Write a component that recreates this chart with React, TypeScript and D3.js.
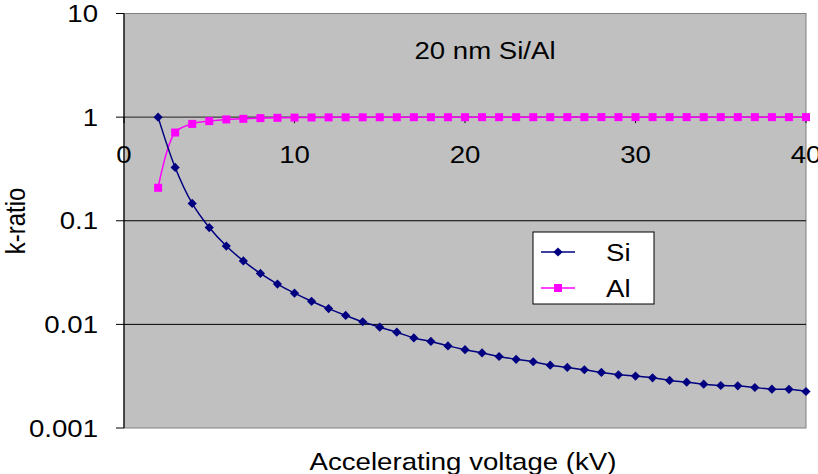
import React from "react";
import * as d3 from "d3";

const voltages = [2,3,4,5,6,7,8,9,10,11,12,13,14,15,16,17,18,19,20,21,22,23,24,25,26,27,28,29,30,31,32,33,34,35,36,37,38,39,40];
const siValues = [1.0,0.327,0.147,0.086,0.057,0.041,0.031,0.0245,0.020,0.0167,0.0142,0.0122,0.0106,0.0094,0.0084,0.0074,0.00685,0.0062,0.0057,0.0053,0.0049,0.0046,0.00436,0.00404,0.00384,0.00365,0.00344,0.00326,0.00317,0.00305,0.00288,0.00277,0.00265,0.00257,0.00255,0.00246,0.00237,0.00236,0.00225];
const alValues = [0.208,0.71,0.86,0.915,0.95,0.963,0.978,0.985,0.99,0.992,0.994,0.995,0.996,0.997,0.997,0.998,0.998,0.998,0.999,0.999,0.999,0.999,0.999,0.999,1,1,1,1,1,1,1,1,1,1,1,1,1,1,1];
const xTicks = [0,10,20,30,40];
const yTicks = [0.001,0.01,0.1,1,10];
const yTickLabels = ["0.001","0.01","0.1","1","10"];
const seriesNames = ["Si","Al"];
const titleText = "20 nm Si/Al";
const xTitle = "Accelerating voltage (kV)";
const yTitle = "k-ratio";

const W = 818, H = 474;
const L = 124, R = 806, T = 13.5, B = 428;
const FONT = "'Liberation Sans', Arial, sans-serif";
const SX = 1.15;

function STxt({x, y, anchor, size, children}: any) {
  return (
    <text transform={`translate(${x},${y}) scale(${SX},1)`} textAnchor={anchor} fontSize={size} fontFamily={FONT} fill="#000">
      {children}
    </text>
  );
}

export default function App() {
  const x = d3.scaleLinear().domain([0, 40]).range([L, R]);
  const y = d3.scaleLog().domain([0.001, 10]).range([B, T]);
  const line = d3.line<[number, number]>().x(d => x(d[0])).y(d => y(d[1])).curve(d3.curveCatmullRom.alpha(0.5));
  const si: [number, number][] = voltages.map((v, i) => [v, siValues[i]]);
  const al: [number, number][] = voltages.map((v, i) => [v, alValues[i]]);
  const diamond = (cx: number, cy: number, s = 4.6) => `M${cx},${cy - s}L${cx + s},${cy}L${cx},${cy + s}L${cx - s},${cy}Z`;
  const y1 = y(1);
  return (
    <svg width={W} height={H} style={{ position: "absolute", left: 0, top: 0 }}>
      <rect x={0} y={0} width={W} height={H} fill="#fff" />
      <rect x={L} y={T} width={R - L} height={B - T} fill="#C0C0C0" stroke="#808080" strokeWidth={1} />
      {[0.1, 0.01].map(t => (
        <line key={t} x1={L} x2={R} y1={y(t)} y2={y(t)} stroke="#000" strokeWidth={1} />
      ))}
      {/* x axis at y = 1 */}
      <line x1={L} x2={R} y1={y1} y2={y1} stroke="#404040" strokeWidth={1.2} />
      {xTicks.map(t => (
        <line key={"xt" + t} x1={x(t)} x2={x(t)} y1={y1} y2={y1 + 6} stroke="#000" strokeWidth={1} />
      ))}
      {/* y axis */}
      <line x1={L} x2={L} y1={T} y2={B} stroke="#000" strokeWidth={1.2} />
      {yTicks.map(t => (
        <line key={"yt" + t} x1={L - 8} x2={L} y1={y(t)} y2={y(t)} stroke="#000" strokeWidth={1} />
      ))}
      {yTicks.map((t, i) => (
        <STxt key={"yl" + t} x={98} y={y(t) + 8.5} anchor="end" size={24}>{yTickLabels[i]}</STxt>
      ))}
      {xTicks.map(t => (
        <STxt key={"xl" + t} x={x(t)} y={163} anchor="middle" size={24}>{String(t)}</STxt>
      ))}
      {/* series */}
      <path d={line(al) || ""} fill="none" stroke="#FF00FF" strokeWidth={1.5} />
      <path d={line(si) || ""} fill="none" stroke="#000080" strokeWidth={1.5} />
      {al.map((d, i) => (
        <rect key={"a" + i} x={x(d[0]) - 4} y={y(d[1]) - 4} width={8} height={8} fill="#FF00FF" />
      ))}
      {si.map((d, i) => (
        <path key={"s" + i} d={diamond(x(d[0]), y(d[1]))} fill="#000080" />
      ))}
      {/* title */}
      <STxt x={485} y={59} anchor="middle" size={24}>{titleText}</STxt>
      {/* legend */}
      <rect x={533} y={232} width={121} height={72} fill="#fff" stroke="#000" strokeWidth={1} />
      <line x1={541} x2={575} y1={252} y2={252} stroke="#000080" strokeWidth={1.5} />
      <path d={diamond(558, 252)} fill="#000080" />
      <STxt x={606} y={260.5} anchor="start" size={24}>{seriesNames[0]}</STxt>
      <line x1={541} x2={575} y1={288} y2={288} stroke="#FF00FF" strokeWidth={1.5} />
      <rect x={554} y={284} width={8} height={8} fill="#FF00FF" />
      <STxt x={606} y={296.5} anchor="start" size={24}>{seriesNames[1]}</STxt>
      {/* axis titles */}
      <STxt x={463} y={470} anchor="middle" size={24}>{xTitle}</STxt>
      <text transform={`translate(25,221) scale(${SX},1) rotate(-90)`} textAnchor="middle" fontSize={24} fontFamily={FONT} fill="#000">{yTitle}</text>
    </svg>
  );
}
